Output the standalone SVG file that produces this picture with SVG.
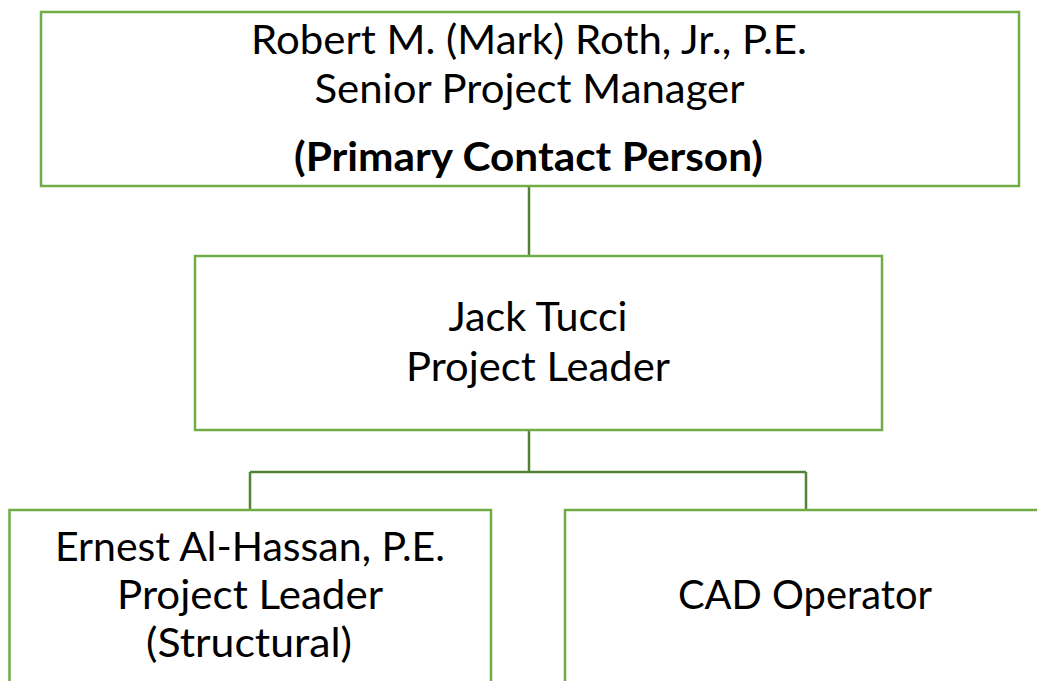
<svg xmlns="http://www.w3.org/2000/svg" width="1037" height="681" viewBox="0 0 1037 681">
<style>
.box{fill:#ffffff;stroke:#70AD47;stroke-width:2.5}
.conn{fill:none;stroke:#548235;stroke-width:2.5}
text{font-family:Lato,"Noto Sans",sans-serif;font-size:40px;fill:#000;text-anchor:middle}
.b{font-weight:bold}
</style>
<g id="connectors">
<path class="conn" d="M529,186 V256"/>
<path class="conn" d="M529,430 V472"/>
<path class="conn" d="M250,472 H806"/>
<path class="conn" d="M250,472 V510"/>
<path class="conn" d="M806,472 V510"/>
</g>
<g id="node-roth">
<rect class="box" x="41" y="12" width="978" height="174"/>
<text x="529" y="54" textLength="556" lengthAdjust="spacingAndGlyphs">Robert M. (Mark) Roth, Jr., P.E.</text>
<text x="529.5" y="103" textLength="430" lengthAdjust="spacingAndGlyphs">Senior Project Manager</text>
<text class="b" x="528.5" y="171" textLength="469" lengthAdjust="spacingAndGlyphs">(Primary Contact Person)</text>
</g>
<g id="node-tucci">
<rect class="box" x="195" y="256" width="687" height="174"/>
<text x="538" y="331" textLength="179" lengthAdjust="spacingAndGlyphs">Jack Tucci</text>
<text x="538" y="381" textLength="264" lengthAdjust="spacingAndGlyphs">Project Leader</text>
</g>
<g id="node-alhassan">
<rect class="box" x="9.5" y="510" width="481.5" height="200"/>
<text x="250" y="561" textLength="390" lengthAdjust="spacingAndGlyphs">Ernest Al-Hassan, P.E.</text>
<text x="250" y="609" textLength="266" lengthAdjust="spacingAndGlyphs">Project Leader</text>
<text x="249" y="657" textLength="206" lengthAdjust="spacingAndGlyphs">(Structural)</text>
</g>
<g id="node-cad">
<rect class="box" x="565" y="510" width="500" height="200"/>
<text x="805" y="609" textLength="254" lengthAdjust="spacingAndGlyphs">CAD Operator</text>
</g>
</svg>
